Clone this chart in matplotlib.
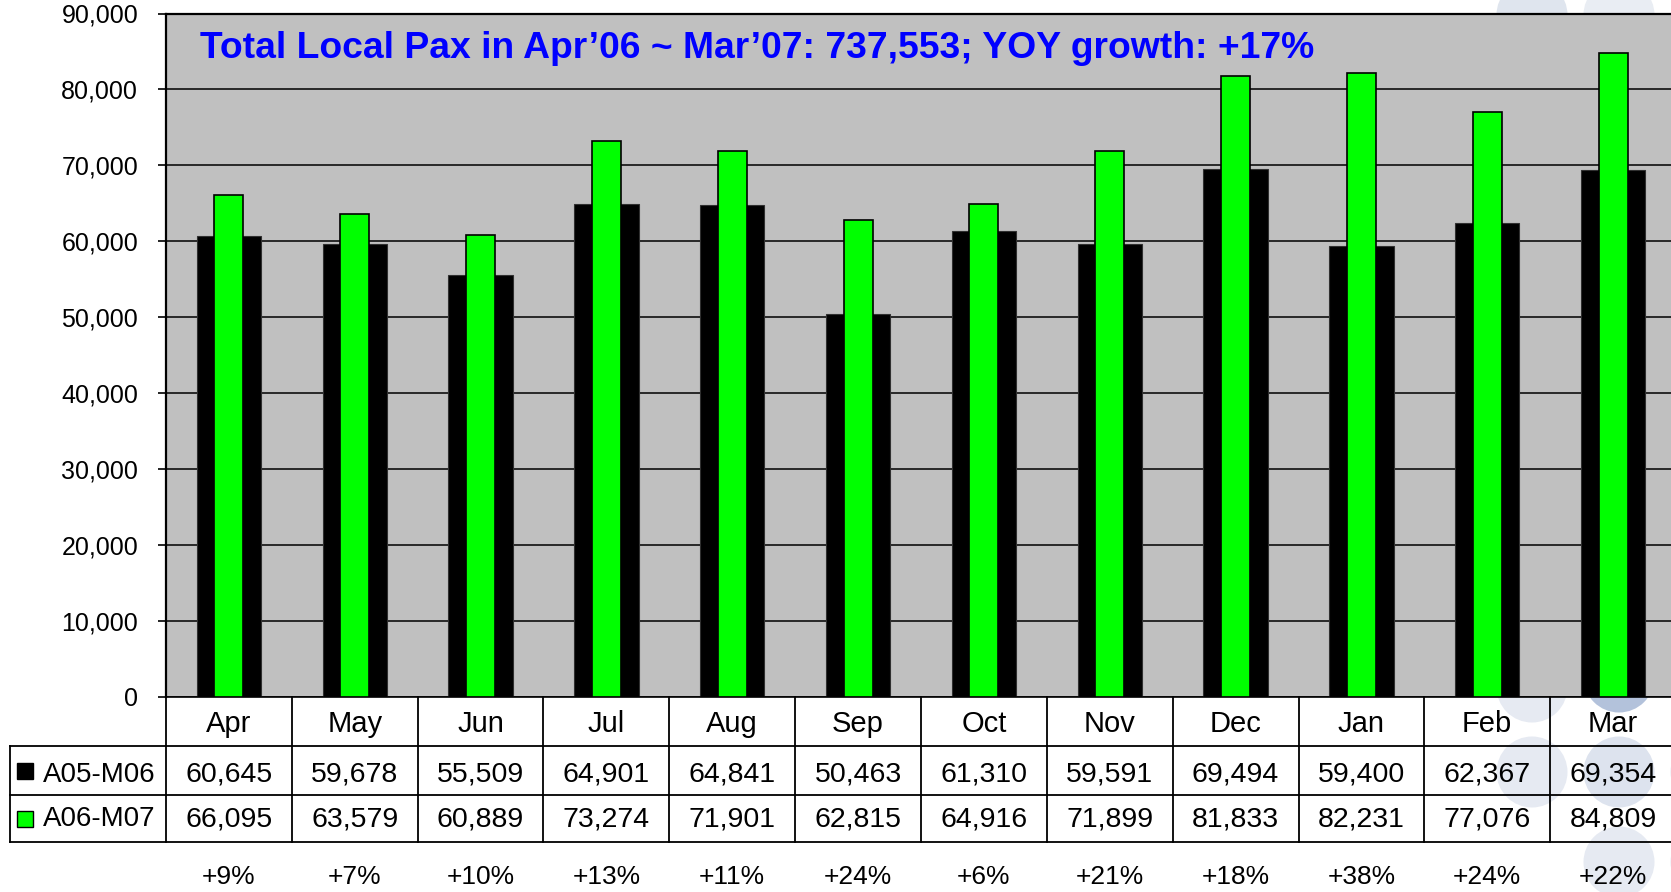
"""
Local pax by month, Apr'05-Mar'06 vs Apr'06-Mar'07.
Bar chart with a data table underneath and YOY growth row.
"""

import matplotlib
matplotlib.use("Agg")
import matplotlib.pyplot as plt
from matplotlib.patches import Circle, Rectangle
from matplotlib.ticker import FuncFormatter

plt.rcParams['font.family'] = ['Liberation Sans', 'DejaVu Sans']

# Data
months = ["Apr", "May", "Jun", "Jul", "Aug", "Sep", "Oct", "Nov", "Dec", "Jan", "Feb", "Mar"]
pax_0506 = [60645, 59678, 55509, 64901, 64841, 50463, 61310, 59591, 69494, 59400, 62367, 69354]
pax_0607 = [66095, 63579, 60889, 73274, 71901, 62815, 64916, 71899, 81833, 82231, 77076, 84809]
growth = ["+9%", "+7%", "+10%", "+13%", "+11%", "+24%", "+6%", "+21%", "+18%", "+38%", "+24%", "+22%"]
series_names = ["A05-M06", "A06-M07"]
title = "Total Local Pax in Apr\u201906 ~ Mar\u201907: 737,553; YOY growth: +17%"

W, H = 1671, 892
fig = plt.figure(figsize=(W / 100, H / 100), dpi=100)

# pixel layout (plot runs slightly past the right edge, as in the original slide)
x_left, x_right = 166, 1676
y_top, y_zero = 13.5, 697
row_edges = [697, 746, 795, 842]   # table row borders, pixels from top
tab_left = 10

def fx(px):
    return px / W

def fy(py):
    return 1 - py / H

# decorative circles of the slide background (pixel centres, drawn in inches)
for cx, cy, col in [(1532, 15, "#dfe5ee"), (1619, 15, "#e9edf3"),
                    (1532, 687, "#e6eaf2"), (1619, 677, "#b3c2db"),
                    (1532, 772, "#e6eaf2"), (1619, 772, "#dde3ee"),
                    (1619, 862, "#e6eaf2"), (1706, 772, "#e6eaf2"),
                    (1706, 862, "#e6eaf2")]:
    fig.patches.append(Circle((cx / 100, (H - cy) / 100), 0.355,
                              transform=fig.dpi_scale_trans,
                              facecolor=col, edgecolor="none", zorder=-1))

ax = fig.add_axes([fx(x_left), fy(y_zero), fx(x_right) - fx(x_left), fy(y_top) - fy(y_zero)])
ax.set_facecolor("#c0c0c0")
x = list(range(len(months)))
ax.bar(x, pax_0506, width=0.51, color="black", edgecolor="#303030", linewidth=0.8, zorder=2)
ax.bar(x, pax_0607, width=0.23, color="#00ff00", edgecolor="black", linewidth=1.2, zorder=3)
ax.set_xlim(-0.5, len(months) - 0.5)
ax.set_ylim(0, 90000)
ax.set_yticks(range(0, 90001, 10000))
ax.yaxis.set_major_formatter(FuncFormatter(lambda v, p: f"{int(v):,}"))
ax.tick_params(axis="y", direction="out", length=6, width=1.2, pad=14, labelsize=18)
ax.set_xticks([])
ax.grid(axis="y", color="black", linewidth=1.1, zorder=1)
ax.set_axisbelow(True)
ax.spines["right"].set_visible(False)
ax.spines["left"].set_linewidth(1.6)
ax.spines["top"].set_linewidth(1.6)
ax.spines["bottom"].set_linewidth(1.2)

fig.text(fx(200), fy(58), title, fontsize=26.8, fontweight="bold", color="#0000ff", va="baseline")

# data table, y in pixels from the top of the image
tab = fig.add_axes([fx(x_left), fy(row_edges[-1]), fx(x_right) - fx(x_left),
                    fy(row_edges[0]) - fy(row_edges[-1])])
tab.set_facecolor("none")
tab.set_xlim(-0.5, len(months) - 0.5)
tab.set_ylim(row_edges[-1], row_edges[0])
tab.axis("off")
col_w = (x_right - x_left) / len(months)
xl = -0.5 - (x_left - tab_left) / col_w
lw = 1.3
for k in range(len(months) + 1):
    tab.plot([k - 0.5, k - 0.5], [row_edges[0], row_edges[-1]], color="black", lw=lw, clip_on=False)
for r in row_edges[1:]:
    tab.plot([xl, len(months)], [r, r], color="black", lw=lw, clip_on=False)
tab.plot([xl, xl], [row_edges[1], row_edges[-1]], color="black", lw=lw, clip_on=False)

mids = [(row_edges[i] + row_edges[i + 1]) / 2 + d for i, d in zip(range(3), [2, 4, 1])]
for i, m in enumerate(months):
    tab.text(i, mids[0], m, ha="center", va="center", fontsize=21)
    tab.text(i, mids[1], f"{pax_0506[i]:,}", ha="center", va="center", fontsize=20.5)
    tab.text(i, mids[2], f"{pax_0607[i]:,}", ha="center", va="center", fontsize=20.5)
    tab.text(i, 877.5, growth[i], ha="center", va="center", fontsize=19, clip_on=False)

key = 16 / col_w
for r, (name, col) in enumerate(zip(series_names, ["black", "#00ff00"])):
    kx = xl + 7 / col_w
    yc = (row_edges[r + 1] + row_edges[r + 2]) / 2
    tab.add_patch(Rectangle((kx, yc - 8), key, 16, facecolor=col,
                            edgecolor="black", lw=1.0, clip_on=False))
    tab.text(xl + 33 / col_w, mids[r + 1], name, ha="left", va="center", fontsize=20)

fig.savefig("out.png", dpi=100)
